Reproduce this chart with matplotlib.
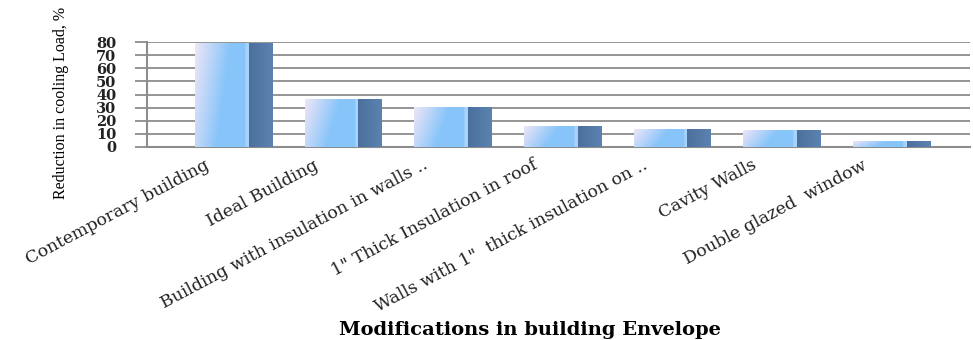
import matplotlib.pyplot as plt
import numpy as np

categories = [
    "Contemporary building",
    "Ideal Building",
    "Building with insulation in walls ..",
    '1" Thick Insulation in roof',
    'Walls with 1"  thick insulation on ..',
    "Cavity Walls",
    "Double glazed  window",
]
reduction = [79, 36, 30, 16, 13.5, 12.5, 4.5]
yticks = [0, 10, 20, 30, 40, 50, 60, 70, 80]

grid_col = "#8c8c8c"
side_col = "#50749f"

fig = plt.figure(figsize=(9.73, 3.40), dpi=100)
ax = fig.add_axes([0.151, 0.568, 0.846, 0.308])

x = np.arange(len(categories))

# front face: lavender -> light blue gradient, side face: dark steel blue
front = ax.bar(x - 0.105, reduction, width=0.49, color="none", zorder=3)
side = ax.bar(x + 0.245, reduction, width=0.21, color=side_col, zorder=3)

lav = np.array([0.93, 0.90, 0.97])
blue = np.array([0.53, 0.77, 0.98])
gx, gy = np.meshgrid(np.linspace(0, 1, 60), np.linspace(0, 1, 60))
t = np.clip(gx * 1.5 + gy * 0.4, 0, 1)[..., None]
grad = lav * (1 - t) + blue * t
# thin highlight next to the side face
grad[:, -4:] = grad[:, -4:] * 0.6 + np.array([0.85, 0.92, 1.0]) * 0.4

for r in front:
    x0, w, h = r.get_x(), r.get_width(), r.get_height()
    ax.imshow(grad, extent=[x0, x0 + w, 0, h], aspect="auto",
              origin="upper", zorder=3, interpolation="bilinear")

# side face shading
sgrad = np.linspace(0.0, 1.0, 30)[None, :, None]
sgrad = np.array([0.30, 0.44, 0.62]) * (1 - sgrad) + np.array([0.36, 0.51, 0.69]) * sgrad
for r in side:
    x0, w, h = r.get_x(), r.get_width(), r.get_height()
    ax.imshow(sgrad, extent=[x0, x0 + w, 0, h], aspect="auto",
              origin="upper", zorder=3, interpolation="bilinear")

ax.set_xlim(-0.79, 6.72)
ax.set_ylim(0, 80)
ax.set_yticks(yticks)
ax.set_yticklabels([str(v) for v in yticks], fontfamily="DejaVu Serif",
                   fontsize=10.5, fontweight="bold", color="#222222")

ax.set_xticks(x - 0.27)
ax.set_xticklabels(categories, rotation=28, ha="right", va="top",
                   rotation_mode="anchor", fontfamily="DejaVu Serif",
                   fontsize=12.5, color="#222222")

ax.tick_params(axis="x", length=0, pad=7)
ax.tick_params(axis="y", length=9, width=1.3, color=grid_col, pad=13)

ax.yaxis.grid(True, color=grid_col, lw=1.3)
ax.set_axisbelow(True)
for s in ["top", "right"]:
    ax.spines[s].set_visible(False)
for s in ["left", "bottom"]:
    ax.spines[s].set_color(grid_col)
    ax.spines[s].set_linewidth(1.5)

fig.text(61 / 973, 1 - 103 / 340, "Reduction in cooling Load, %", rotation=90,
         ha="center", va="center", fontfamily="Liberation Serif", fontsize=11.5)
fig.text(530 / 973, 1 - 330 / 340, "Modifications in building Envelope",
         ha="center", va="center", fontfamily="DejaVu Serif",
         fontweight="bold", fontsize=14)

fig.savefig("out.png", dpi=100)
